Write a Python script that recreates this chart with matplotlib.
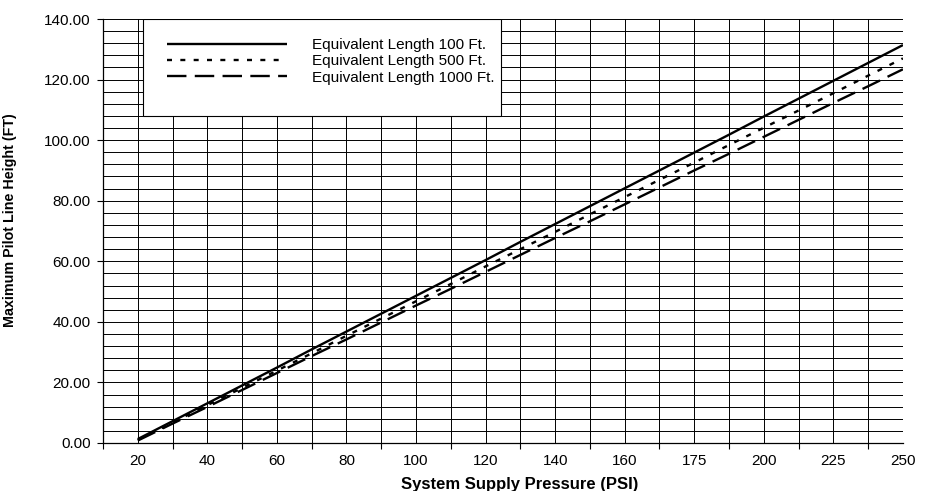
import matplotlib
matplotlib.use("Agg")
import matplotlib.pyplot as plt
from matplotlib.patches import Rectangle
from matplotlib.ticker import FixedLocator, NullFormatter

plt.rcParams["font.family"] = ["Liberation Sans", "DejaVu Sans"]
plt.rcParams["lines.scale_dashes"] = False

# category axis: pressures (every other one labelled)
pressure_labels = ["20", "", "40", "", "60", "", "80", "", "100", "", "120", "",
                   "140", "", "160", "", "175", "", "200", "", "225", "", "250"]

# maximum pilot line height (ft) per category
len_100 = [1.3, 7.2, 13.1, 19.0, 24.9, 30.9, 36.8, 42.7, 48.6, 54.5, 60.4, 66.4,
           72.3, 78.2, 84.1, 90.0, 95.9, 101.8, 107.8, 113.7, 119.6, 125.5, 131.4]
len_500 = [1.0, 6.7, 12.5, 18.2, 23.9, 29.6, 35.4, 41.1, 46.8, 52.5, 58.3, 64.0,
           69.7, 75.5, 81.2, 86.9, 92.6, 98.4, 104.1, 109.8, 115.5, 121.3, 127.0]
len_1000 = [0.8, 6.4, 11.9, 17.5, 23.1, 28.7, 34.2, 39.8, 45.4, 50.9, 56.5, 62.1,
            67.7, 73.2, 78.8, 84.4, 90.0, 95.5, 101.1, 106.7, 112.3, 117.8, 123.4]

series_labels = ["Equivalent Length 100 Ft.", "Equivalent Length 500 Ft.",
                 "Equivalent Length 1000 Ft."]

y_ticks = [0, 20, 40, 60, 80, 100, 120, 140]

x = list(range(len(pressure_labels)))

fig = plt.figure(figsize=(9.28, 4.91), dpi=100)
ax = fig.add_axes([0.111, 0.0978, 0.862, 0.8635])

l1, = ax.plot(x, len_100, color="black", lw=1.7, solid_capstyle="butt")
l2, = ax.plot(x, len_500, color="black", lw=1.7, dashes=(3.6, 6.0))
l3, = ax.plot(x, len_1000, color="black", lw=1.7, dashes=(14.0, 6.0))

ax.set_xlim(-1, len(x) - 1)
ax.set_ylim(0, 140)

# gridlines at every category and every 4 ft
for k in range(-1, len(x)):
    ax.axvline(k, color="black", lw=0.7, zorder=0)
for v in range(4, 141, 4):
    ax.axhline(v, color="black", lw=0.7, zorder=0)

# ticks
ax.yaxis.set_major_locator(FixedLocator(y_ticks))
ax.set_yticklabels([f"{v:.2f}" for v in y_ticks])
ax.xaxis.set_major_locator(FixedLocator([k for k in range(-1, len(x), 2)]))
ax.xaxis.set_major_formatter(NullFormatter())
ax.xaxis.set_minor_locator(FixedLocator([k for k in x if pressure_labels[k]]))
ax.set_xticklabels([p for p in pressure_labels if p], minor=True)
ax.tick_params(axis="x", which="minor", length=0, pad=8, labelsize=11)
ax.tick_params(axis="x", which="major", length=4, width=0.8, direction="out")
ax.tick_params(axis="y", length=4, width=0.8, direction="out", labelsize=11, pad=5)

for s in ["top", "right"]:
    ax.spines[s].set_visible(False)
for s in ["left", "bottom"]:
    ax.spines[s].set_linewidth(0.9)

ax.set_xlabel("System Supply Pressure (PSI)", fontsize=12, fontweight="bold")
ax.xaxis.set_label_coords(0.521, -0.080)
ax.set_ylabel("Maximum Pilot Line Height (FT)", fontsize=10.3, fontweight="bold",
              family=["Liberation Sans Narrow", "Liberation Sans"])
ax.yaxis.set_label_coords(-0.1075, 0.526)

# legend box
ax.add_patch(Rectangle((0.05, 0.771), 0.447, 0.229, transform=ax.transAxes,
                       facecolor="white", edgecolor="black", lw=0.8, zorder=3))
ax.legend([l1, l2, l3], series_labels, loc="upper left", bbox_to_anchor=(0.08, 0.955),
          frameon=False, fontsize=11, handlelength=7.85, handletextpad=1.64,
          labelspacing=0.15, borderpad=0, borderaxespad=0).set_zorder(4)

fig.savefig("out.png", dpi=100)
